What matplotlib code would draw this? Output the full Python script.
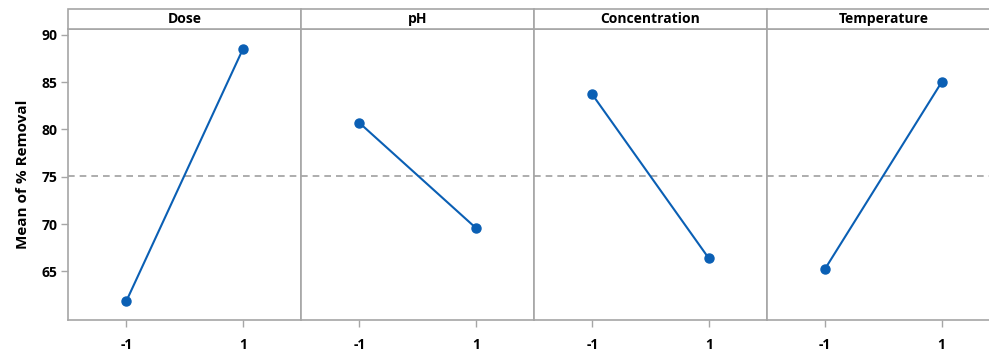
import numpy as np
import matplotlib.pyplot as plt

factors = ['Dose', 'pH', 'Concentration', 'Temperature']
levels = [-1, 1]
means = [
    [61.9, 88.5],
    [80.7, 69.6],
    [83.7, 66.4],
    [65.3, 85.0],
]
grand_mean = 75.1
yticks = [65, 70, 75, 80, 85, 90]

plt.rcParams['font.family'] = ['Open Sans', 'DejaVu Sans']
frame = '#a6a6a6'
blue = '#0a5fb4'

fig, axes = plt.subplots(1, 4, figsize=(9.89, 3.51), dpi=100, sharey=True)
fig.subplots_adjust(left=0.069, right=1.011, bottom=0.089, top=0.917, wspace=0)

for i, ax in enumerate(axes):
    ax.plot(levels, means[i], color=blue, lw=1.5, marker='o', ms=6.5, zorder=3)
    ax.axhline(grand_mean, color='#a0a0a0', lw=1.2, ls=(0, (4, 3)), zorder=1)
    ax.set_xlim(-2, 2)
    ax.set_ylim(59.9, 90.6)
    ax.set_xticks(levels)
    ax.set_xticklabels(['-1', '1'], fontsize=10, fontweight='bold')
    for s in ax.spines.values():
        s.set_color(frame)
        s.set_linewidth(1.2)
    ax.tick_params(axis='x', color=frame, length=5, width=1, pad=8)
    if i == 0:
        ax.set_yticks(yticks)
        ax.set_yticklabels([str(t) for t in yticks], fontsize=10, fontweight='bold')
        ax.tick_params(axis='y', color=frame, length=5, width=1, pad=3)
        ax.set_ylabel('Mean of % Removal', fontsize=11, fontweight='bold', labelpad=8)
    else:
        ax.tick_params(axis='y', left=False)
    # strip header
    pos = ax.get_position()
    strip = plt.Rectangle((pos.x0, pos.y1), pos.width, 0.057, transform=fig.transFigure,
                          facecolor='white', edgecolor=frame, lw=1.2, clip_on=False)
    fig.add_artist(strip)
    fig.text(pos.x0 + pos.width / 2, pos.y1 + 0.0285, factors[i], ha='center', va='center',
             fontsize=10, fontweight='bold')

fig.savefig('out.png', dpi=100)
